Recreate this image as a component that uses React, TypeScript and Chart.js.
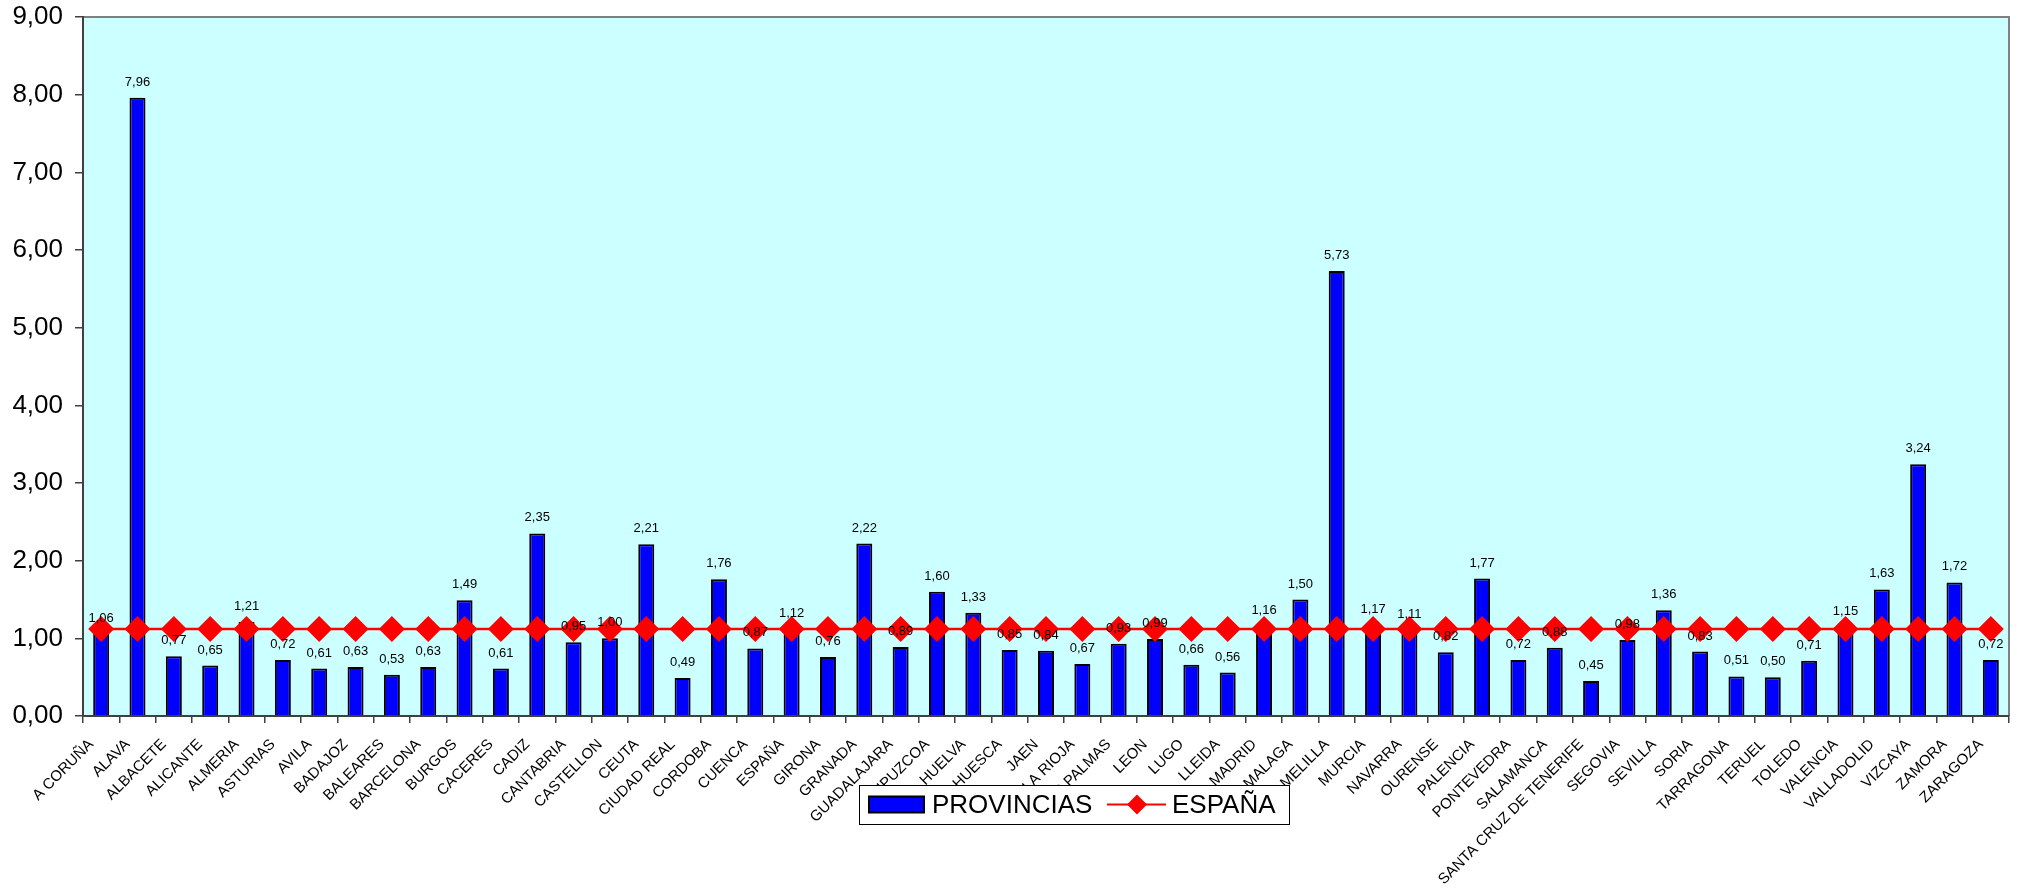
import React, { useEffect, useRef } from 'react';
import { Chart, registerables } from 'chart.js';

Chart.register(...registerables);

const categories = [
  'A CORUÑA', 'ALAVA', 'ALBACETE', 'ALICANTE', 'ALMERIA', 'ASTURIAS', 'AVILA', 'BADAJOZ', 'BALEARES', 'BARCELONA',
  'BURGOS', 'CACERES', 'CADIZ', 'CANTABRIA', 'CASTELLON', 'CEUTA', 'CIUDAD REAL', 'CORDOBA', 'CUENCA', 'ESPAÑA',
  'GIRONA', 'GRANADA', 'GUADALAJARA', 'GUIPUZCOA', 'HUELVA', 'HUESCA', 'JAEN', 'LA RIOJA', 'LAS PALMAS', 'LEON',
  'LUGO', 'LLEIDA', 'MADRID', 'MALAGA', 'MELILLA', 'MURCIA', 'NAVARRA', 'OURENSE', 'PALENCIA', 'PONTEVEDRA',
  'SALAMANCA', 'SANTA CRUZ DE TENERIFE', 'SEGOVIA', 'SEVILLA', 'SORIA', 'TARRAGONA', 'TERUEL', 'TOLEDO', 'VALENCIA', 'VALLADOLID',
  'VIZCAYA', 'ZAMORA', 'ZARAGOZA',
];

const provincias = [
  1.06, 7.96, 0.77, 0.65, 1.21, 0.72, 0.61, 0.63, 0.53, 0.63,
  1.49, 0.61, 2.35, 0.95, 1.00, 2.21, 0.49, 1.76, 0.87, 1.12,
  0.76, 2.22, 0.89, 1.60, 1.33, 0.85, 0.84, 0.67, 0.93, 0.99,
  0.66, 0.56, 1.16, 1.50, 5.73, 1.17, 1.11, 0.82, 1.77, 0.72,
  0.88, 0.45, 0.98, 1.36, 0.83, 0.51, 0.50, 0.71, 1.15, 1.63,
  3.24, 1.72, 0.72,
];

const espana = [
  1.12, 1.12, 1.12, 1.12, 1.12, 1.12, 1.12, 1.12, 1.12, 1.12,
  1.12, 1.12, 1.12, 1.12, 1.12, 1.12, 1.12, 1.12, 1.12, 1.12,
  1.12, 1.12, 1.12, 1.12, 1.12, 1.12, 1.12, 1.12, 1.12, 1.12,
  1.12, 1.12, 1.12, 1.12, 1.12, 1.12, 1.12, 1.12, 1.12, 1.12,
  1.12, 1.12, 1.12, 1.12, 1.12, 1.12, 1.12, 1.12, 1.12, 1.12,
  1.12, 1.12, 1.12,
];

const yTicks = [0, 1, 2, 3, 4, 5, 6, 7, 8, 9];

const FONT = '"Liberation Sans", Arial, sans-serif';
const fmt = (v: number) => v.toFixed(2).replace('.', ',');

const backgroundPlugin = {
  id: 'plotBg',
  beforeDraw(chart: any) {
    const { ctx, chartArea: a } = chart;
    ctx.save();
    ctx.fillStyle = '#CCFFFF';
    ctx.fillRect(a.left, a.top, a.right - a.left, a.bottom - a.top);
    ctx.strokeStyle = '#808080';
    ctx.lineWidth = 2;
    ctx.beginPath();
    ctx.moveTo(a.left, a.top);
    ctx.lineTo(a.right, a.top);
    ctx.lineTo(a.right, a.bottom);
    ctx.stroke();
    ctx.restore();
  },
};

const valueLabelPlugin = {
  id: 'valueLabels',
  afterDatasetsDraw(chart: any) {
    const { ctx } = chart;
    const meta = chart.getDatasetMeta(0);
    ctx.save();
    ctx.font = `13px ${FONT}`;
    ctx.fillStyle = '#000';
    ctx.textAlign = 'center';
    ctx.textBaseline = 'alphabetic';
    meta.data.forEach((bar: any, i: number) => {
      ctx.fillText(fmt(provincias[i]), bar.x, bar.y - 12);
    });
    ctx.restore();
  },
};

const xLabelPlugin = {
  id: 'xLabels',
  afterDraw(chart: any) {
    const { ctx } = chart;
    const scale = chart.scales.x;
    ctx.save();
    ctx.font = `15px ${FONT}`;
    ctx.fillStyle = '#000';
    ctx.textAlign = 'right';
    ctx.textBaseline = 'alphabetic';
    categories.forEach((label, i) => {
      const x = scale.getPixelForTick(i);
      ctx.save();
      ctx.translate(x - 7, scale.top + 29);
      ctx.rotate(-Math.PI / 4);
      ctx.fillText(label, 0, 0);
      ctx.restore();
    });
    ctx.restore();
  },
};

const legendPlugin = {
  id: 'customLegend',
  afterDraw(chart: any) {
    const { ctx } = chart;
    const ds = chart.data.datasets;
    const x = 859, y = 785, w = 430, h = 39;
    const cy = y + h / 2;
    ctx.save();
    ctx.fillStyle = '#FFFFFF';
    ctx.fillRect(x, y, w, h);
    ctx.strokeStyle = '#000';
    ctx.lineWidth = 1;
    ctx.strokeRect(x + 0.5, y + 0.5, w, h);
    ctx.fillStyle = '#0000FF';
    ctx.fillRect(869, cy - 8, 55, 16);
    ctx.strokeStyle = '#000';
    ctx.lineWidth = 2;
    ctx.strokeRect(869, cy - 8, 55, 16);
    ctx.fillStyle = '#000';
    ctx.font = `26px ${FONT}`;
    ctx.textAlign = 'left';
    ctx.textBaseline = 'middle';
    ctx.fillText(ds[0].label, 932, cy + 1);
    ctx.strokeStyle = '#FF0000';
    ctx.lineWidth = 2;
    ctx.beginPath();
    ctx.moveTo(1107, cy);
    ctx.lineTo(1166, cy);
    ctx.stroke();
    ctx.fillStyle = '#FF0000';
    ctx.beginPath();
    const r = 10;
    ctx.moveTo(1137 - r, cy);
    ctx.lineTo(1137, cy - r);
    ctx.lineTo(1137 + r, cy);
    ctx.lineTo(1137, cy + r);
    ctx.closePath();
    ctx.fill();
    ctx.fillStyle = '#000';
    ctx.fillText(ds[1].label, 1172, cy + 1);
    ctx.restore();
  },
};

export default function App() {
  const ref = useRef<HTMLCanvasElement>(null);

  useEffect(() => {
    if (!ref.current) return;
    const chart = new Chart(ref.current, {
      type: 'bar',
      data: {
        labels: categories,
        datasets: [
          {
            type: 'bar',
            label: 'PROVINCIAS',
            data: provincias,
            backgroundColor: '#0000FF',
            borderColor: '#000000',
            borderWidth: 2,
            categoryPercentage: 1,
            barPercentage: 0.44,
            order: 2,
          },
          {
            type: 'line',
            label: 'ESPAÑA',
            data: espana,
            borderColor: '#FF0000',
            backgroundColor: '#FF0000',
            borderWidth: 2.5,
            pointStyle: 'rectRot',
            pointRadius: 13,
            pointBorderWidth: 0,
            pointBackgroundColor: '#FF0000',
            order: 1,
          },
        ],
      } as any,
      options: {
        responsive: false,
        animation: false,
        devicePixelRatio: 1,
        layout: { padding: { left: 0, top: 17, right: 19, bottom: 0 } },
        plugins: {
          legend: { display: false },
          tooltip: { enabled: false },
        },
        scales: {
          x: {
            offset: true,
            grid: {
              offset: true,
              drawOnChartArea: false,
              drawTicks: true,
              tickLength: 7,
              color: '#404040',
              lineWidth: 1.5,
            },
            border: { display: true, color: '#404040', width: 2 },
            ticks: {
              display: false,
              autoSkip: false,
            },
            afterFit(scale: any) {
              scale.height = 178;
              scale.paddingLeft = 0;
              scale.paddingRight = 0;
            },
          },
          y: {
            min: 0,
            max: 9,
            afterBuildTicks(scale: any) {
              scale.ticks = yTicks.map((v) => ({ value: v }));
            },
            grid: {
              drawOnChartArea: false,
              drawTicks: true,
              tickLength: 8,
              color: '#404040',
              lineWidth: 1.5,
            },
            border: { display: true, color: '#404040', width: 2 },
            ticks: {
              color: '#000',
              font: { family: FONT, size: 26 },
              padding: 12,
              callback: (v: any) => fmt(Number(v)),
            },
            afterFit(scale: any) {
              scale.width = 83;
              scale.paddingTop = 0;
              scale.paddingBottom = 0;
            },
          },
        },
      },
      plugins: [backgroundPlugin, valueLabelPlugin, xLabelPlugin, legendPlugin],
    });
    return () => chart.destroy();
  }, []);

  return (
    <div style={{ position: 'absolute', left: 0, top: 0, width: 2028, height: 894, background: '#fff' }}>
      <canvas ref={ref} width={2028} height={894} />
    </div>
  );
}
